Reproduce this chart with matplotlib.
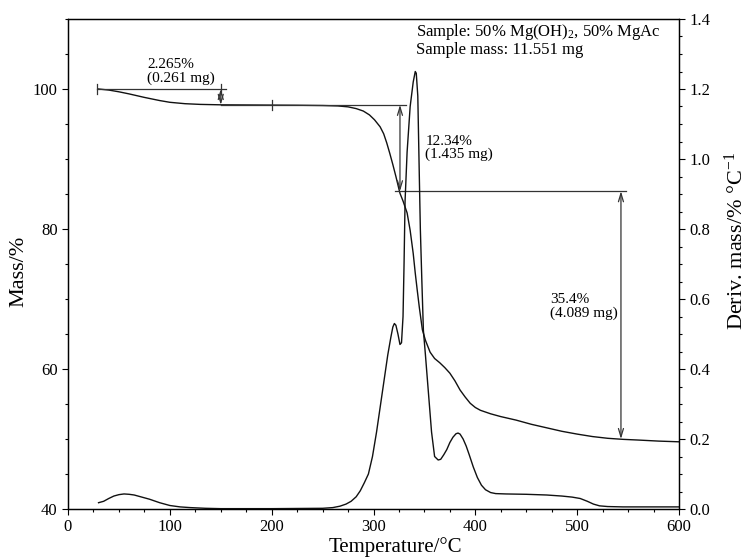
import numpy as np
import matplotlib.pyplot as plt
from matplotlib.ticker import MultipleLocator

plt.rcParams['font.family'] = ['Liberation Serif', 'DejaVu Serif']
plt.rcParams['mathtext.fontset'] = 'custom'
plt.rcParams['mathtext.rm'] = 'Liberation Serif'
plt.rcParams['mathtext.it'] = 'Liberation Serif:italic'

# TG curve (left axis, mass %)
tg_temp = [30, 40, 50, 60, 75, 90, 100, 115, 130, 150, 175, 200, 225, 250, 265,
           275, 283, 290, 296, 301, 306.5, 310, 313, 316, 319, 322, 326, 329, 333,
           336, 339, 341, 343, 345, 348, 351, 355.6, 360, 365, 370, 375, 380, 385,
           390, 395, 400, 405, 415, 425, 440, 455, 470, 485, 500, 515, 530, 545,
           560, 580, 600]
tg_mass = [100.0, 99.85, 99.6, 99.3, 98.8, 98.35, 98.1, 97.9, 97.8, 97.74, 97.72,
           97.7, 97.68, 97.64, 97.58, 97.45, 97.2, 96.85, 96.3, 95.6, 94.6, 93.6,
           92.3, 90.8, 89.2, 87.5, 85.1, 84.0, 82.3, 79.8, 76.5, 73.7, 71.2, 68.8,
           65.6, 64.1, 62.4, 61.5, 60.9, 60.2, 59.4, 58.3, 57.0, 56.0, 55.1, 54.5,
           54.1, 53.6, 53.2, 52.7, 52.1, 51.6, 51.1, 50.7, 50.35, 50.1, 49.95,
           49.85, 49.7, 49.6]

# DTG curve (right axis, %/°C)
dtg_temp = [30, 35, 40, 45, 50, 55, 60, 65, 70, 80, 90, 100, 110, 120, 135, 150,
            200, 250, 260, 267, 273, 278, 283, 287, 291, 295, 299, 303, 307, 311,
            314, 317, 319, 320.5, 322, 324, 326, 327.5, 329, 330, 331, 333, 336,
            339, 341, 342, 343.5, 345, 346, 347.5, 349, 351, 354, 357, 360, 363.5,
            366, 369, 372, 375, 378, 381, 383, 385, 388, 391, 394, 398, 402, 406,
            410, 415, 420, 430, 450, 470, 485, 495, 503, 510, 516, 522, 530, 545,
            570, 600]
dtg_val = [0.018, 0.022, 0.03, 0.037, 0.041, 0.043, 0.042, 0.04, 0.036, 0.028,
           0.018, 0.01, 0.006, 0.004, 0.002, 0.001, 0.001, 0.002, 0.004, 0.008,
           0.014, 0.022, 0.035, 0.052, 0.075, 0.10, 0.15, 0.22, 0.30, 0.38, 0.44,
           0.49, 0.52, 0.53, 0.525, 0.50, 0.47, 0.475, 0.55, 0.70, 0.88, 1.02,
           1.15, 1.22, 1.25, 1.245, 1.18, 0.95, 0.80, 0.65, 0.51, 0.44, 0.33,
           0.22, 0.15, 0.14, 0.142, 0.155, 0.17, 0.19, 0.205, 0.215, 0.217, 0.214,
           0.20, 0.18, 0.155, 0.12, 0.09, 0.068, 0.055, 0.047, 0.044, 0.043,
           0.042, 0.04, 0.037, 0.034, 0.03, 0.022, 0.014, 0.009, 0.007, 0.006,
           0.006, 0.006]

# mass-loss steps
step_levels = [100.0, 97.735, 85.395, 49.995]
step_arrow_x = [150, 326, 543]
step_line_x0 = [28, 150, 321]
step_line_x1 = [155, 332, 548]
step_labels = ['2.265%\n(0.261 mg)', '12.34%\n(1.435 mg)', '35.4%\n(4.089 mg)']
label_pos = [(77.6, 100.6, 'bottom'), (351, 91.6, 'center'), (473.5, 68.9, 'center')]
bar_x = [28, 150, 200]
bar_level = [0, 0, 1]

fig = plt.figure(figsize=(7.46, 5.59), dpi=100)
ax = fig.add_axes([68 / 746, 50 / 559, 611 / 746, 490 / 559])
ax2 = ax.twinx()

ax.plot(tg_temp, tg_mass, color='#111111', lw=1.0)
ax2.plot(dtg_temp, dtg_val, color='#111111', lw=1.0)

lc = '#333333'
for i in range(3):
    ax.plot([step_line_x0[i], step_line_x1[i]], [step_levels[i], step_levels[i]],
            color=lc, lw=0.9)
    ax.annotate('', xy=(step_arrow_x[i], step_levels[i + 1]),
                xytext=(step_arrow_x[i], step_levels[i]),
                arrowprops=dict(arrowstyle='<->,head_length=0.6,head_width=0.18',
                                color=lc, lw=0.9, shrinkA=0, shrinkB=0,
                                mutation_scale=10))
    tx, ty, va = label_pos[i]
    ax.text(tx, ty, step_labels[i], fontsize=11, ha='left', va=va, linespacing=1.0)
for bx, bl in zip(bar_x, bar_level):
    lev = step_levels[bl]
    ax.plot([bx, bx], [lev - 0.75, lev + 0.75], color=lc, lw=0.9)

ax.set_xlim(0, 600)
ax.set_ylim(40, 110)
ax2.set_ylim(0, 1.4)

ax.xaxis.set_major_locator(MultipleLocator(100))
ax.xaxis.set_minor_locator(MultipleLocator(25))
ax.set_yticks([40, 60, 80, 100])
ax.yaxis.set_minor_locator(MultipleLocator(5))
ax2.yaxis.set_major_locator(MultipleLocator(0.2))
ax2.yaxis.set_minor_locator(MultipleLocator(0.05))
ax2.yaxis.set_major_formatter(plt.FuncFormatter(lambda v, p: f'{v:.1f}'))

for a in (ax, ax2):
    a.tick_params(which='major', direction='out', length=4, width=0.8, labelsize=12)
    a.tick_params(which='minor', direction='out', length=2, width=0.8)
    for s in a.spines.values():
        s.set_linewidth(0.9)

ax.set_xlabel('Temperature/°C', fontsize=15, labelpad=1)
ax.xaxis.label.set_x(0.535)
ax.set_ylabel('Mass/%', fontsize=16, labelpad=3)
ax.yaxis.label.set_y(0.484)
ax2.set_ylabel('Deriv. mass/% °C$^{-1}$', fontsize=16, labelpad=10)
ax2.yaxis.label.set_y(0.547)

ax.text(0.569, 0.993, 'Sample: 50% Mg(OH)$_\\mathrm{2}$, 50% MgAc\nSample mass: 11.551 mg',
        transform=ax.transAxes, fontsize=12, ha='left', va='top', linespacing=1.0)

fig.savefig('out.png', dpi=100)
